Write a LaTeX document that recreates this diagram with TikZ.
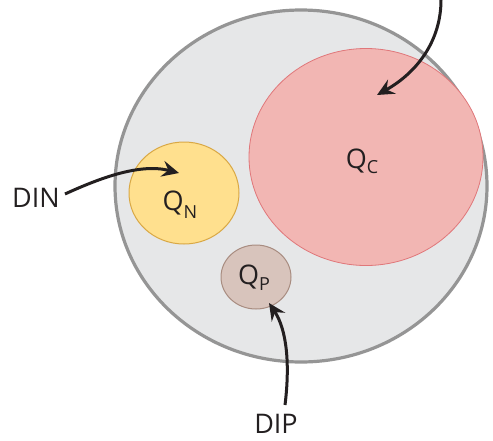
\documentclass[tikz,border=0pt]{standalone}
\usepackage{fontspec}
\setmainfont{Open Sans}
\usetikzlibrary{shapes.geometric,arrows.meta}
\definecolor{txt}{HTML}{231F20}
\definecolor{cellfill}{HTML}{E6E7E8}
\definecolor{cellline}{HTML}{959595}
\definecolor{cfill}{HTML}{F2B6B3}
\definecolor{cline}{HTML}{E0777A}
\definecolor{nfill}{HTML}{FFE08E}
\definecolor{nline}{HTML}{D9A845}
\definecolor{pfill}{HTML}{D8C4BC}
\definecolor{pline}{HTML}{A88C80}
\tikzset{
  pool/.style={ellipse, inner sep=0pt, draw},
  lbl/.style={text=txt, font=\fontsize{27}{30}\selectfont, inner sep=0pt},
  flux/.style={line width=3pt, draw=txt, -{Stealth[length=17pt,width=16pt,inset=6pt]}},
}
\begin{document}
\begin{tikzpicture}[x=1pt,y=-1pt]
\useasboundingbox (0,0) rectangle (493,440);
\node[pool, fill=cellfill, draw=cellline, line width=3.2pt, minimum width=372pt, minimum height=352pt] (cell) at (301,186) {};
\node[pool, fill=cfill, draw=cline, line width=0.8pt, minimum width=234pt, minimum height=217pt] (qc) at (366,157) {};
\node[pool, fill=nfill, draw=nline, line width=1pt, minimum width=110pt, minimum height=102pt] (qn) at (184,193) {};
\node[pool, fill=pfill, draw=pline, line width=1pt, minimum width=70pt, minimum height=64pt] (qp) at (256,277) {};
\node[lbl] (tc) at (362,161) {Q\raisebox{-5pt}{\fontsize{18}{20}\selectfont C}};
\node[lbl] (tn) at (180,205) {Q\raisebox{-8pt}{\fontsize{18}{20}\selectfont N}};
\node[lbl] (tp) at (254,278) {Q\raisebox{-6pt}{\fontsize{18}{20}\selectfont P}};
\node[lbl] (din) at (36,198) {DIN};
\node[lbl] (dip) at (276,424) {DIP};
\coordinate (topsrc) at (441,0);
\coordinate (tipc) at (377,95);
\coordinate (tipn) at (179,173);
\coordinate (dipsrc) at (285,405);
\coordinate (tipp) at (269,303);
\draw[flux] (topsrc) .. controls (441,40) and (418,72) .. (tipc);
\draw[flux] (din.east) ++(5,-4) .. controls (100,178) and (140,163) .. (tipn);
\draw[flux] (dipsrc) .. controls (290,365) and (287,330) .. (tipp);
\end{tikzpicture}
\end{document}
